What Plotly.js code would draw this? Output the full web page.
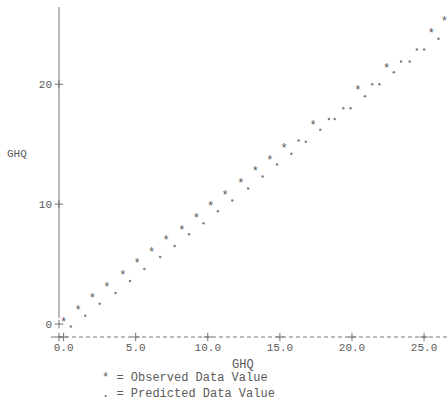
<!DOCTYPE html>
<html>
<head>
<meta charset="utf-8">
<script src="https://cdn.plot.ly/plotly-3.0.1.min.js"></script>
<style>html,body{margin:0;padding:0;background:#fff;}#chart{width:448px;height:402px;}</style>
</head>
<body>
<div id="chart"></div>
<script>
// ---- data ----
var seriesNames = ["Observed Data Value", "Predicted Data Value"];
var seriesSymbols = ["*", "."];

var observedX = [0.0, 1.0, 2.0, 3.0, 4.1, 5.1, 6.1, 7.1, 8.2, 9.2, 10.2, 11.2, 12.3, 13.3, 14.3, 15.3, 17.3, 20.4, 22.4, 25.5, 26.4];
var observedY = [0.1, 1.1, 2.1, 3.0, 4.0, 5.0, 5.9, 6.9, 7.8, 8.8, 9.8, 10.7, 11.7, 12.7, 13.6, 14.6, 16.5, 19.4, 21.3, 24.2, 25.2];

// observed values whose "*" printed faintly (appear as dots)
var faintX = [16.3, 18.4, 19.4, 21.4, 23.4, 24.5];
var faintY = [15.3, 17.1, 18.0, 20.0, 21.9, 22.9];

var predictedX = [0.5, 1.5, 2.5, 3.6, 4.6, 5.6, 6.7, 7.7, 8.7, 9.7, 10.7, 11.7, 12.8, 13.8, 14.8, 15.8, 16.8, 17.8, 18.8, 19.9, 20.9, 21.9, 22.9, 24.0, 25.0, 26.0];
var predictedY = [-0.2, 0.7, 1.7, 2.6, 3.6, 4.6, 5.6, 6.5, 7.5, 8.4, 9.4, 10.3, 11.3, 12.3, 13.3, 14.2, 15.2, 16.2, 17.1, 18.0, 19.0, 20.0, 21.0, 21.9, 22.9, 23.8];

var xTickVals = [0, 5, 10, 15, 20, 25];
var xTickText = ["0.0", "5.0", "10.0", "15.0", "20.0", "25.0"];
var yTickVals = [0, 10, 20];
var yTickText = ["0", "10", "20"];
var axisTitle = "GHQ";

// ---- styling ----
var MONO = "Liberation Mono, Courier New, monospace";
var INK = "#5a5a5a";
var xRange = [-0.32, 26.66];
var yRange = [-1.08, 26.36];

var crossMarker = {symbol: "cross-thin-open", size: 6, line: {width: 1, color: "#707070"}, color: "#707070"};

var traces = [
  {
    x: observedX, y: observedY, type: "scatter", mode: "text",
    text: observedX.map(function(){ return seriesSymbols[0]; }),
    textposition: "middle center",
    textfont: {family: MONO, size: 12, color: "#555"},
    name: seriesNames[0], showlegend: false, cliponaxis: false, hoverinfo: "x+y"
  },
  {
    x: predictedX, y: predictedY, type: "scatter", mode: "markers",
    marker: {symbol: "circle", size: 2.5, color: "#808080"},
    name: seriesNames[1], showlegend: false, cliponaxis: false
  },
  {
    x: faintX, y: faintY, type: "scatter", mode: "markers",
    marker: {symbol: "circle", size: 2.5, color: "#808080"},
    name: seriesNames[0] + " (faint)", showlegend: false, cliponaxis: false
  },
  // "+" tick marks of the line-printer axes, placed at the axis tick values (and the corner)
  {
    x: [xRange[0]].concat(xTickVals), y: [yRange[0]].concat(xTickVals.map(function(){ return yRange[0]; })),
    type: "scatter", mode: "markers", marker: crossMarker,
    showlegend: false, cliponaxis: false, hoverinfo: "skip"
  },
  {
    x: yTickVals.map(function(){ return xRange[0]; }), y: yTickVals,
    type: "scatter", mode: "markers", marker: crossMarker,
    showlegend: false, cliponaxis: false, hoverinfo: "skip"
  }
];

var tickFont = {family: MONO, size: 11, color: INK};

var layout = {
  width: 448, height: 402,
  margin: {l: 59, r: 0, t: 8, b: 65},
  paper_bgcolor: "#ffffff", plot_bgcolor: "#ffffff",
  showlegend: false,
  xaxis: {
    range: xRange, tickmode: "array", tickvals: xTickVals, ticktext: xTickText,
    ticks: "", showline: false, showgrid: false, zeroline: false, tickfont: tickFont,
    ticklabelstandoff: 2
  },
  yaxis: {
    range: yRange, tickmode: "array", tickvals: yTickVals, ticktext: yTickText,
    ticks: "", showline: false, showgrid: false, zeroline: false, tickfont: tickFont,
    ticklabelstandoff: 6
  },
  shapes: [
    {type: "line", xref: "paper", yref: "paper", x0: -0.0206, x1: 1, y0: 0, y1: 0,
     line: {color: "#777", width: 1, dash: "4px,3px"}},
    {type: "line", xref: "paper", yref: "paper", x0: 0, x1: 0, y0: 0.058, y1: 1.003,
     line: {color: "#777", width: 1}}
  ],
  annotations: [
    {text: axisTitle, xref: "paper", yref: "paper", x: -0.109, y: 0.556,
     xanchor: "center", yanchor: "middle", showarrow: false,
     font: {family: MONO, size: 11, color: INK}},
    {text: axisTitle, xref: "paper", yref: "paper", x: 0.473, y: -0.085,
     xanchor: "center", yanchor: "middle", showarrow: false,
     font: {family: MONO, size: 12, color: INK}},
    {text: seriesSymbols[0] + " = " + seriesNames[0] + "<br>" + seriesSymbols[1] + " = " + seriesNames[1],
     xref: "paper", yref: "paper", x: 0.105, y: -0.149, align: "left",
     xanchor: "left", yanchor: "middle", showarrow: false,
     font: {family: MONO, size: 12, color: INK}}
  ]
};

Plotly.newPlot("chart", traces, layout, {displayModeBar: false, staticPlot: true});
</script>
</body>
</html>
